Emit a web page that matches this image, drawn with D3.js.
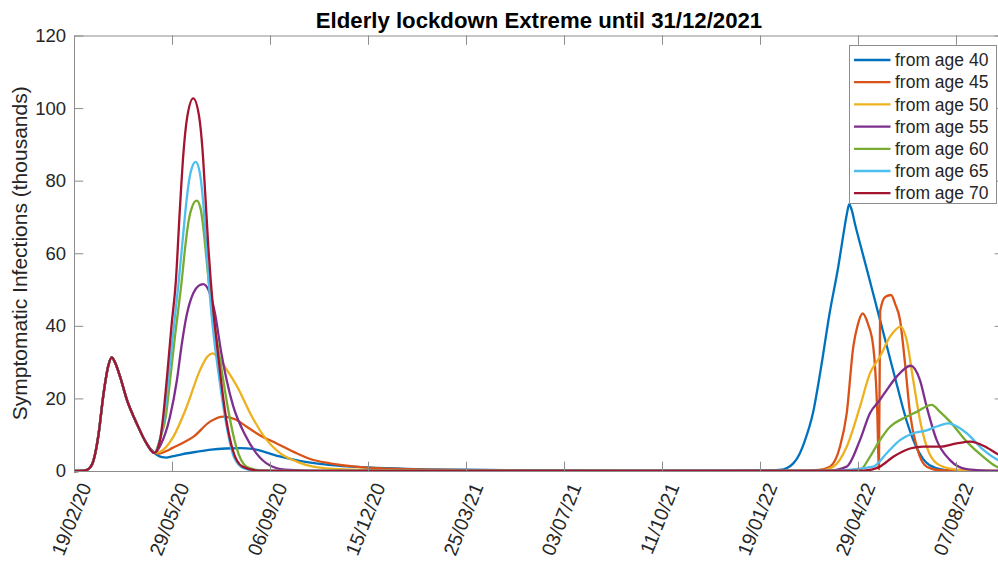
<!DOCTYPE html>
<html>
<head>
<meta charset="utf-8">
<script src="https://cdn.jsdelivr.net/npm/d3@7"></script>
<style>
  html, body { margin: 0; padding: 0; background: #fff; overflow: hidden; }
  svg { display: block; font-family: "Liberation Sans", Arial, Helvetica, sans-serif; }
</style>
</head>
<body>
<svg id="chart" width="998" height="563"></svg>
<script>
// Symptomatic infections (thousands) per scenario, as [days since 19/02/2020, value]
const firstWave = [[0,0],[10,0.1],[15,0.6],[20,3],[25,10],[30,21],[35,29],[38.5,31.3],[42,29.8],[47,26],[54,19.6],[64,13.1],[74,7.6],[82,5.0]];

const age40 = [[86,4.2],[90,3.8],[94,3.7],[100,4.0],[110,4.6],[125,5.3],[140,5.9],[155,6.2],[170,6.3],[182,6.1],[190,5.6],[200,4.8],[210,4.0],[230,2.8],[260,1.7],[300,1.0],[340,0.6],[400,0.35],[480,0.2],[560,0.12],[650,0.08],[700,0.15],[720,0.3],[728,0.9],[734,2.1],[740,4.5],[746,8.5],[754,15.9],[762,28],[771,43.4],[780,56.5],[785,65],[788.5,70.6],[791,73.5],[793.5,72],[797,68],[801,63.8],[810,54.6],[820,44.2],[830,33.8],[840,23.4],[850,13.5],[858,7.5],[866,3.5],[876,1.2],[894,0.1],[949,0]];

const age45 = [[87,4.8],[95,5.6],[100,6.3],[110,7.6],[121.7,9.4],[138.8,13.6],[152.3,15],[165,14.2],[176.2,12.2],[190,9.8],[206.8,7.6],[227.2,4.9],[241,3.3],[261,2.1],[295,1.0],[340,0.5],[400,0.25],[480,0.1],[600,0.05],[740,0.05],[760,0.3],[771.4,1.2],[781.6,6.7],[788.5,15.9],[795.2,34.2],[799.5,40],[804.8,43.4],[810.2,40.5],[815.6,34.2],[819.7,15.9],[821.4,0.5],[822.6,44],[828,48],[833.7,48.5],[838,46],[842.9,41.6],[848,29.7],[853.1,15.9],[859.9,6.7],[870.1,1.2],[883.7,0.2],[949,0]];

const age50 = [[87.8,5.3],[101.3,9.4],[115,17.7],[128.6,27.8],[136,31.5],[141.5,32.4],[147,31.3],[155,28.3],[167,23],[179.6,16],[193.2,9.8],[210.2,4.9],[227.2,2.6],[244.2,1.2],[271.4,0.5],[320,0.15],[400,0.05],[760,0.05],[774.8,1.2],[788.5,6.7],[802,17.7],[812.2,26.9],[822.4,31.5],[832.7,37],[843.6,39.8],[849.7,36],[856.4,25],[863.3,14],[870.1,6.7],[880.3,2.1],[896.9,0.5],[920,0.05],[949,0]];

const age55 = [[88,7],[98,15],[105,25],[110,35],[115,43],[121.7,49],[127,51],[131.9,51.5],[137,50],[143.9,43.4],[150,33],[155.8,25],[162.3,18],[174.5,10],[185.7,5],[200,1.5],[215,0.4],[260,0.03],[770,0.1],[788.5,1.2],[802,8.5],[812.2,15.9],[822.4,19.6],[829.3,22.3],[839.5,26],[853.8,29],[863.3,25],[870.1,17.7],[880.3,8.5],[893.9,3],[910.9,0.5],[930,0.1],[949,0]];

const age60 = [[88,9],[93.7,15],[98,25],[103,37],[110,52.6],[114,63],[117,69],[120.5,72.8],[125.2,74.5],[129,72.5],[132,67],[135,59],[138,51],[142.5,42],[150,29],[158,15.9],[165.5,6.7],[176,1.2],[190,0.2],[220,0.02],[790,0.05],[802,0.3],[812.2,3.9],[822.4,8.5],[832.7,12.2],[846.2,14.5],[859.9,16.3],[875.2,18.2],[883.7,16.3],[893.9,13.6],[910.9,8.1],[927.9,3.9],[942.9,1.0],[949,0.6]];

const age65 = [[88,9],[92,15],[96.2,25],[102,40],[107,52.6],[111,64],[115,75],[119,82.3],[124.2,85.2],[128.5,82],[131.5,75],[134.5,64],[137.5,52],[141.5,40],[148.5,25],[156,12],[163,4],[173,0.8],[186,0.1],[220,0.02],[770,0.05],[815.6,1.2],[829.3,4.9],[842.9,8.5],[856.4,10.4],[870.1,11.2],[882,12.4],[891.8,13.1],[904,11.8],[911,10.4],[928,5.8],[943,3],[949,2.3]];

const age70 = [[87.8,8.5],[91,15],[94.6,25],[99.5,40],[104,52.6],[108,72],[111.5,87],[115.5,97.5],[121.7,102.7],[127.5,98],[131,89],[134,76],[137,62],[139.5,52.6],[148,29.7],[155.5,14],[162,5.8],[172,1.2],[188,0.1],[220,0.02],[740,0.05],[805.4,0.1],[822.4,1.2],[836,3.9],[853.1,6.2],[866.6,6.7],[883.7,6.7],[900.7,7.6],[914.3,8.1],[931.3,6.5],[942.9,4.6],[949,3.8]];

const seriesLabels = ["from age 40","from age 45","from age 50","from age 55","from age 60","from age 65","from age 70"];
const seriesColors = ["#0072BD","#D95319","#EDB120","#7E2F8E","#77AC30","#4DBEEE","#A2142F"];
const seriesData = [age40, age45, age50, age55, age60, age65, age70];

const yTicks = [0, 20, 40, 60, 80, 100, 120];
const tickDays = [0, 100, 200, 300, 400, 500, 600, 700, 800, 900];
const lastDay = 949;
const titleText = "Elderly lockdown Extreme until 31/12/2021";
const yLabelText = "Symptomatic Infections (thousands)";

const DAY = 864e5;
const startMs = Date.UTC(2020, 1, 19);
const toDate = d => new Date(startMs + d * DAY);

const svg = d3.select("#chart");
const plotLeft = 74, plotRight = 1004, plotTop = 35.5, plotBottom = 471;
const tickLen = 9.3;
const axisColor = "#8c8c8c";
const textColor = "#262626";

const x = d3.scaleUtc().domain([toDate(0), toDate(lastDay)]).range([plotLeft, plotRight]);
const y = d3.scaleLinear().domain([0, 120]).range([plotBottom, plotTop]);

// curves
const line = d3.line()
  .x(d => x(toDate(d[0])))
  .y(d => y(d[1]))
  .curve(d3.curveMonotoneX);

const plot = svg.append("g");
seriesData.forEach((s, i) => {
  plot.append("path")
    .datum(firstWave.concat(s))
    .attr("fill", "none")
    .attr("stroke", seriesColors[i])
    .attr("stroke-width", 2.3)
    .attr("stroke-linejoin", "round")
    .attr("d", line);
});

// axes box
const fmt = d3.utcFormat("%d/%m/%y");
const xTickVals = tickDays.map(toDate);

const xAxis = svg.append("g")
  .attr("transform", `translate(0,${plotBottom})`)
  .call(d3.axisBottom(x).tickValues(xTickVals).tickFormat(fmt).tickSizeInner(-tickLen).tickSizeOuter(0));
xAxis.select(".domain").attr("stroke", axisColor);
xAxis.selectAll(".tick line").attr("stroke", axisColor);
xAxis.selectAll(".tick text")
  .attr("x", 0).attr("y", 0).attr("dy", "0.35em")
  .attr("text-anchor", "end")
  .attr("transform", "translate(11,13) rotate(-68)")
  .attr("fill", textColor)
  .style("font-size", "19.5px")
  .style("font-family", "'Liberation Sans', Arial, sans-serif");

const xTop = svg.append("g")
  .attr("transform", `translate(0,${plotTop})`)
  .call(d3.axisTop(x).tickValues(xTickVals).tickFormat("").tickSizeInner(-tickLen).tickSizeOuter(0));
xTop.select(".domain").attr("stroke", axisColor);
xTop.selectAll(".tick line").attr("stroke", axisColor);

const yAxis = svg.append("g")
  .attr("transform", `translate(${plotLeft},0)`)
  .call(d3.axisLeft(y).tickValues(yTicks).tickSizeInner(-tickLen).tickSizeOuter(0).tickPadding(8));
yAxis.select(".domain").attr("stroke", axisColor);
yAxis.selectAll(".tick line").attr("stroke", axisColor);
yAxis.selectAll(".tick text")
  .attr("fill", textColor)
  .style("font-size", "18.5px")
  .style("font-family", "'Liberation Sans', Arial, sans-serif");

const yRight = svg.append("g")
  .attr("transform", `translate(${plotRight},0)`)
  .call(d3.axisRight(y).tickValues(yTicks).tickFormat("").tickSizeInner(-tickLen).tickSizeOuter(0));
yRight.select(".domain").attr("stroke", axisColor);
yRight.selectAll(".tick line").attr("stroke", axisColor);

// title and axis label
svg.append("text")
  .attr("x", (plotLeft + plotRight) / 2).attr("y", 28)
  .attr("text-anchor", "middle")
  .attr("fill", "#000")
  .style("font-size", "22.2px").style("font-weight", "bold")
  .text(titleText);

svg.append("text")
  .attr("transform", `translate(27,${(plotTop + plotBottom) / 2}) rotate(-90)`)
  .attr("text-anchor", "middle")
  .attr("fill", textColor)
  .style("font-size", "21px")
  .text(yLabelText);

// legend
const legend = svg.append("g");
legend.append("rect")
  .attr("x", 849.5).attr("y", 45.5).attr("width", 147).attr("height", 158)
  .attr("fill", "#fff").attr("stroke", "#8c8c8c").attr("stroke-width", 1);
seriesLabels.forEach((lab, i) => {
  const cy = 60 + i * 22.2;
  legend.append("line")
    .attr("x1", 854).attr("x2", 890.5).attr("y1", cy).attr("y2", cy)
    .attr("stroke", seriesColors[i]).attr("stroke-width", 2.3);
  legend.append("text")
    .attr("x", 895).attr("y", cy).attr("dy", "0.35em")
    .attr("fill", textColor)
    .style("font-size", "17.5px")
    .text(lab);
});
</script>
</body>
</html>
